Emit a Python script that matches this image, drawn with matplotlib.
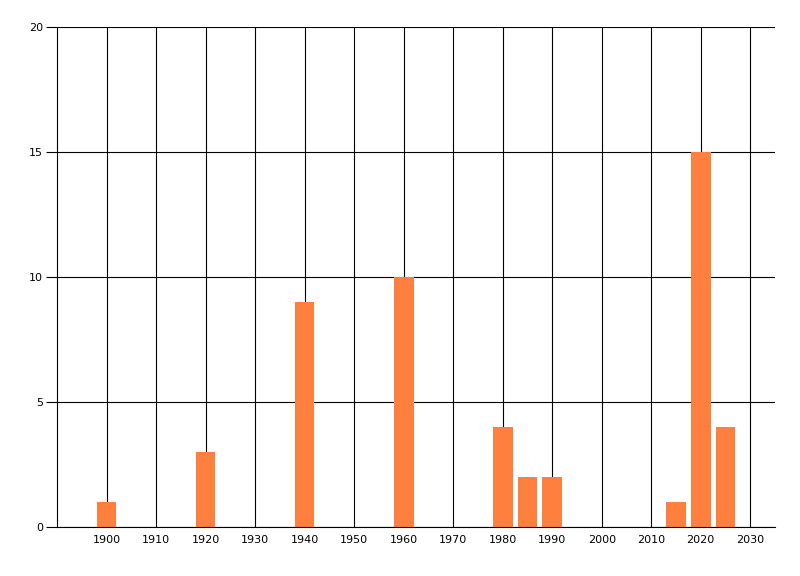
import matplotlib
matplotlib.use("Agg")
from matplotlib import pyplot as plt
import numpy as np

years = [1900, 1920, 1940, 1960, 1980, 1985, 1990, 2015, 2020, 2025]
counts = [1, 3, 9, 10, 4, 2, 2, 1, 15, 4]
xticks = list(range(1900, 2031, 10))
yticks = [0, 5, 10, 15, 20]

fig = plt.figure(figsize=(8, 5.76), dpi=100)
ax = fig.add_axes([57/800, 49/576, 718/800, 500/576])

ax.bar(years, counts, width=4, color='#ff7f3f', zorder=3)

ax.set_xlim(1890, 2035)
ax.set_ylim(0, 20)
ax.set_xticks(xticks)
ax.set_yticks(yticks)
ax.tick_params(axis='x', length=0, pad=6, labelsize=8)
ax.tick_params(axis='y', length=8, width=0.8, pad=2, labelsize=8)
ax.grid(True, color='black', linewidth=0.8, zorder=0)
ax.set_axisbelow(True)

for s in ['top', 'right']:
    ax.spines[s].set_visible(False)
for s in ['left', 'bottom']:
    ax.spines[s].set_linewidth(0.8)
    ax.spines[s].set_zorder(4)

plt.savefig('out.png', dpi=100)
